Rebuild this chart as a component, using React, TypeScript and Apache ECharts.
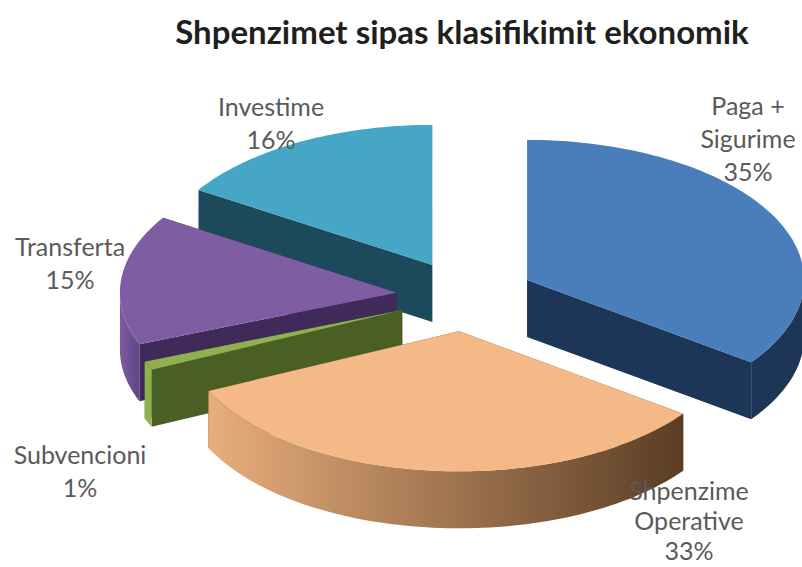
import React, { useEffect, useRef } from "react";
import * as echarts from "echarts";

const categories = ["Paga +\nSigurime", "Shpenzime\nOperative", "Subvencioni", "Transferta", "Investime"];
const values = [35, 33, 1, 15, 16];
const chartTitle = "Shpenzimet sipas klasifikimit ekonomik";

const topColors = ["#4a7ebb", "#f5b987", "#8fb04f", "#7f5da3", "#45a7c5"];
const wallColors = ["#1d3557", "#5c3e26", "#4a5f24", "#3f2a5a", "#1d4a5b"];
const rimStops = [
  ["#1d3557", "#1d3557"],
  ["#e8ae7c", "#5a3d25"],
  ["#8fb04f", "#8fb04f"],
  ["#7c5ca0", "#5f4585"],
  ["#1d4a5b", "#1d4a5b"],
];
const labelPositions = [
  [748, 138],
  [689, 520],
  [80, 470],
  [70, 262],
  [271, 122],
];
const lineGaps = [33, 30, 33, 33, 33];

const CX = 465.6;
const CY = 296;
const RX = 277;
const RY = 140;
const EXPLODE_X = 69;
const EXPLODE_Y = 35.5;
const DEPTH = 57;
const total = values.reduce((a, b) => a + b, 0);

const rad = (d: number) => (d * Math.PI) / 180;

function renderSlice(params: any, api: any) {
  const i = params.dataIndex;
  const v = api.value(0);
  let before = 0;
  for (let k = 0; k < i; k++) before += values[k];
  const start = (before / total) * 360;
  const end = ((before + v) / total) * 360;
  const mid = (start + end) / 2;
  const cx = CX + EXPLODE_X * Math.sin(rad(mid));
  const cy = CY - EXPLODE_Y * Math.cos(rad(mid));
  const base = Math.round(cy) * 10;
  const pt = (t: number, dz = 0) => [cx + RX * Math.sin(rad(t)), cy - RY * Math.cos(rad(t)) + dz];
  const arc = (a: number, b: number, dz = 0) => {
    const n = Math.max(2, Math.ceil(Math.abs(b - a) / 1.5));
    const out: number[][] = [];
    for (let k = 0; k <= n; k++) out.push(pt(a + ((b - a) * k) / n, dz));
    return out;
  };
  const wall = (t: number) => [[cx, cy], pt(t), pt(t, DEPTH), [cx, cy + DEPTH]];
  const children: any[] = [
    { type: "polygon", z2: base, shape: { points: wall(start) }, style: { fill: wallColors[i] } },
    { type: "polygon", z2: base, shape: { points: wall(end) }, style: { fill: wallColors[i] } },
  ];
  const a = Math.max(start, 90);
  const b = Math.min(end, 270);
  if (b > a) {
    children.push({
      type: "polygon",
      z2: base + 1,
      shape: { points: [...arc(a, b), ...arc(b, a, DEPTH)] },
      style: {
        fill: new echarts.graphic.LinearGradient(0, 0, 1, 0, [
          { offset: 0, color: rimStops[i][0] },
          { offset: 1, color: rimStops[i][1] },
        ]),
      },
    });
  }
  children.push({
    type: "polygon",
    z2: base + 2,
    shape: { points: [[cx, cy], ...arc(start, end)] },
    style: { fill: topColors[i] },
  });
  return { type: "group", children };
}

function labelElements() {
  return categories.flatMap((c, i) => {
    const lines = `${c}\n${values[i]}%`.split("\n");
    return lines.map((line, k) => ({
      type: "text",
      x: labelPositions[i][0],
      y: labelPositions[i][1] + (k - (lines.length - 1) / 2) * lineGaps[i],
      z: 100,
      style: {
        text: line,
        align: "center",
        verticalAlign: "middle",
        fontFamily: "Lato",
        fontSize: 25,
        lineHeight: 20,
        fill: "#5a5a5a",
      },
    }));
  });
}

export default function App() {
  const ref = useRef<HTMLDivElement>(null);
  useEffect(() => {
    const chart = echarts.init(ref.current!, undefined, { renderer: "svg" });
    chart.setOption({
      animation: false,
      backgroundColor: "#ffffff",
      title: {
        text: chartTitle,
        left: 457,
        top: 9,
        textAlign: "center",
        textStyle: { fontFamily: "Lato", fontSize: 33, fontWeight: "bold", color: "#1f1f1f" },
      },
      series: [
        {
          type: "custom",
          coordinateSystem: "none",
          renderItem: renderSlice,
          data: values.map((v, i) => ({ name: categories[i].replace("\n", " "), value: [v] })),
          silent: true,
        },
      ],
      graphic: labelElements(),
    });
    return () => chart.dispose();
  }, []);
  return <div ref={ref} style={{ position: "absolute", left: 0, top: 0, width: 802, height: 567 }} />;
}
